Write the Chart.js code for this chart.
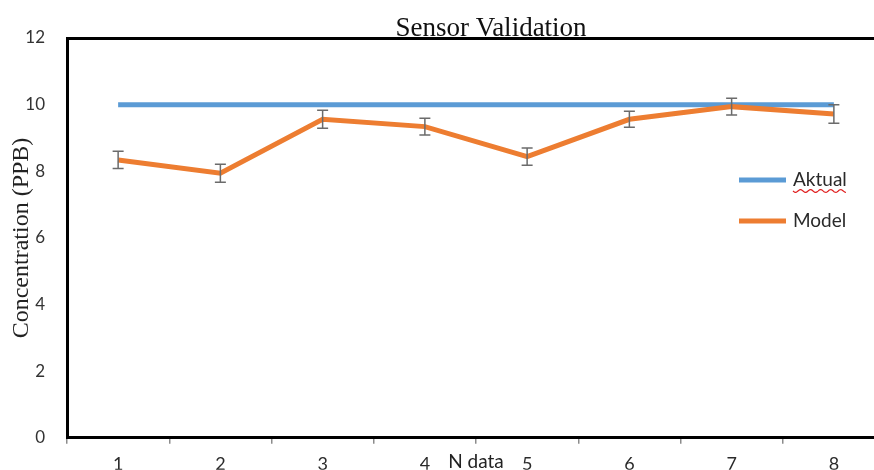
<!DOCTYPE html>
<html>
<head>
<meta charset="utf-8">
<script src="https://cdn.jsdelivr.net/npm/chart.js@4/dist/chart.umd.min.js"></script>
<style>
  html, body { margin: 0; padding: 0; background: #fff; overflow: hidden; }
  #wrap { width: 900px; height: 470px; }
</style>
</head>
<body>
<div id="wrap"><canvas id="c" width="900" height="470"></canvas></div>
<script>
const categories = ['1', '2', '3', '4', '5', '6', '7', '8'];
const aktualValues = [10, 10, 10, 10, 10, 10, 10, 10];
const modelValues = [8.34, 7.94, 9.56, 9.34, 8.44, 9.56, 9.94, 9.72];
const modelErrors = [0.26, 0.27, 0.27, 0.25, 0.26, 0.24, 0.25, 0.28];
const yTicks = [0, 2, 4, 6, 8, 10, 12];

const chartTitle = 'Sensor Validation';
const yTitle = 'Concentration (PPB)';
const xTitle = 'N data';

const sansFont = 'Lato, "Open Sans", sans-serif';
const serifFont = '"Liberation Serif", "DejaVu Serif", serif';

const extrasPlugin = {
  id: 'extras',
  afterDatasetsDraw(chart) {
    const ctx = chart.ctx;
    const xs = chart.scales.x, ys = chart.scales.y;
    ctx.save();
    ctx.strokeStyle = '#6b6b6b';
    ctx.lineWidth = 1.5;
    modelValues.forEach((v, i) => {
      const x = xs.getPixelForValue(i);
      const yT = ys.getPixelForValue(v + modelErrors[i]);
      const yB = ys.getPixelForValue(v - modelErrors[i]);
      ctx.beginPath();
      ctx.moveTo(x, yT); ctx.lineTo(x, yB);
      ctx.moveTo(x - 5.5, yT); ctx.lineTo(x + 5.5, yT);
      ctx.moveTo(x - 5.5, yB); ctx.lineTo(x + 5.5, yB);
      ctx.stroke();
    });
    ctx.restore();
  },
  afterDraw(chart) {
    const ctx = chart.ctx;
    const area = chart.chartArea;
    ctx.save();
    ctx.fillStyle = '#111';
    ctx.font = '27px ' + serifFont;
    ctx.textAlign = 'center';
    ctx.textBaseline = 'alphabetic';
    ctx.fillText(chartTitle, 491, 36);
    ctx.save();
    ctx.translate(22, 238);
    ctx.rotate(-Math.PI / 2);
    ctx.font = '24px ' + serifFont;
    ctx.textAlign = 'center';
    ctx.textBaseline = 'middle';
    ctx.fillStyle = '#222';
    ctx.fillText(yTitle, 0, 0);
    ctx.restore();
    ctx.font = '19px ' + sansFont;
    ctx.fillStyle = '#222';
    ctx.textAlign = 'center';
    ctx.textBaseline = 'middle';
    ctx.fillText(xTitle, (area.left + area.right) / 2, 462);
    const items = chart.data.datasets.map(d => ({ label: d.label, color: d.borderColor }));
    const ly = [180, 221];
    items.forEach((it, i) => {
      ctx.strokeStyle = it.color;
      ctx.lineWidth = 5;
      ctx.beginPath();
      ctx.moveTo(739, ly[i]); ctx.lineTo(786, ly[i]);
      ctx.stroke();
      ctx.fillStyle = '#2a2a2a';
      ctx.font = '19px ' + sansFont;
      ctx.textAlign = 'left';
      ctx.textBaseline = 'middle';
      ctx.fillText(it.label, 793, ly[i]);
      if (i === 0) {
        const w = ctx.measureText(it.label).width;
        ctx.strokeStyle = '#e02020';
        ctx.lineWidth = 1.2;
        ctx.beginPath();
        for (let x = 0; x <= w; x += 1) {
          const y = ly[i] + 11 + Math.sin(x / 1.6) * 1.4;
          if (x === 0) ctx.moveTo(793 + x, y); else ctx.lineTo(793 + x, y);
        }
        ctx.stroke();
      }
    });
    ctx.restore();
  }
};

new Chart(document.getElementById('c'), {
  type: 'line',
  data: {
    labels: categories,
    datasets: [
      {
        label: 'Aktual',
        data: aktualValues,
        borderColor: '#5b9bd5',
        backgroundColor: '#5b9bd5',
        borderWidth: 5,
        pointRadius: 0,
        tension: 0,
        order: 1
      },
      {
        label: 'Model',
        data: modelValues,
        borderColor: '#ed7d31',
        backgroundColor: '#ed7d31',
        borderWidth: 5,
        pointRadius: 0,
        tension: 0,
        order: 0
      }
    ]
  },
  options: {
    responsive: false,
    animation: false,
    layout: { padding: { left: 0, right: 15, top: 0, bottom: 0 } },
    plugins: {
      legend: { display: false },
      title: { display: false },
      tooltip: { enabled: false }
    },
    scales: {
      x: {
        type: 'category',
        position: 'bottom',
        offset: true,
        grid: { offset: true, drawOnChartArea: false, drawTicks: true, tickLength: 6, color: '#8c8c8c', lineWidth: 1.5 },
        border: { display: true, color: '#000', width: 3 },
        ticks: { color: '#2a2a2a', font: { family: sansFont, size: 18 }, padding: 10, maxRotation: 0 },
        afterFit(scale) { scale.height = 32; }
      },
      x2: {
        type: 'category',
        position: 'top',
        labels: categories,
        offset: true,
        grid: { display: false },
        border: { display: true, color: '#000', width: 3 },
        ticks: { display: false },
        afterFit(scale) { scale.height = 38; }
      },
      y: {
        min: 0,
        max: 12,
        afterBuildTicks(scale) { scale.ticks = yTicks.map(v => ({ value: v })); },
        grid: { display: false, drawTicks: false },
        border: { display: true, color: '#000', width: 3 },
        ticks: { color: '#333', font: { family: sansFont, size: 17 }, padding: 22 },
        afterFit(scale) { scale.width = 67; }
      }
    }
  },
  plugins: [extrasPlugin]
});
</script>
</body>
</html>
